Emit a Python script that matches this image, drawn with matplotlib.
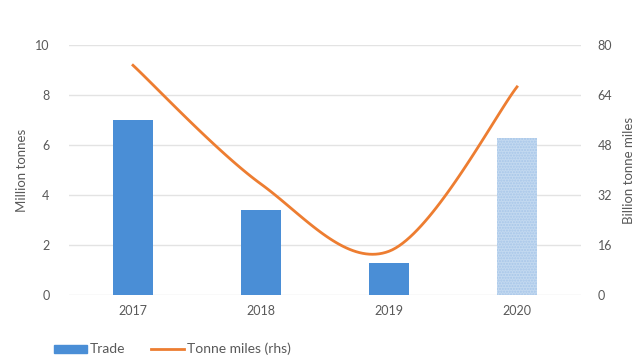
import matplotlib
matplotlib.use("Agg")
import matplotlib.pyplot as plt
import numpy as np
from matplotlib.patches import Patch
from matplotlib.lines import Line2D

years = ["2017", "2018", "2019", "2020"]
trade = [7.0, 3.4, 1.3, 6.3]
tonne_miles = [73.5, 35.5, 14.0, 66.6]
left_ticks = [0, 2, 4, 6, 8, 10]
right_ticks = [0, 16, 32, 48, 64, 80]

plt.rcParams['font.family'] = ['Lato', 'DejaVu Sans']
grey = '#595959'

fig = plt.figure(figsize=(6.4, 3.59), dpi=100)
ax = fig.add_axes([69/640, 1-295/359, (581-69)/640, (295-45)/359])
ax2 = ax.twinx()

x = np.arange(len(years))
colors = ['#4a8ed6', '#4a8ed6', '#4a8ed6', '#c3d9f0']
bars = ax.bar(x, trade, width=0.31, color=colors, zorder=2, linewidth=0)
bars[3].set_hatch('......')
bars[3].set_edgecolor('#a7c6e9')
bars[3].set_linewidth(0)

# Catmull-Rom smoothing with duplicated end points (Excel-like smoothed line)
def catmull(xs, ys, n=40):
    xs = np.asarray(xs, float); ys = np.asarray(ys, float)
    px = np.concatenate([[xs[0]], xs, [xs[-1]]])
    py = np.concatenate([[ys[0]], ys, [ys[-1]]])
    ox, oy = [], []
    for i in range(1, len(px)-2):
        t = np.linspace(0, 1, n)
        for arr, out in ((px, ox), (py, oy)):
            p0, p1, p2, p3 = arr[i-1], arr[i], arr[i+1], arr[i+2]
            b1 = p1 + (p2 - p0) / 6
            b2 = p2 - (p3 - p1) / 6
            out.extend((1-t)**3*p1 + 3*(1-t)**2*t*b1 + 3*(1-t)*t**2*b2 + t**3*p2)
    return np.array(ox), np.array(oy)

sx, sy = catmull(x, tonne_miles)
ax2.plot(sx, sy, color='#ed7d31', linewidth=2, zorder=3)

ax.set_xlim(-0.5, 3.5)
ax.set_ylim(0, 10)
ax2.set_ylim(0, 80)
ax.set_yticks(left_ticks)
ax2.set_yticks(right_ticks)
ax.set_xticks(x)
ax.set_xticklabels(years)
ax.yaxis.grid(True, color='#e3e3e3', linewidth=1)
ax.set_axisbelow(True)
for a in (ax, ax2):
    for s in a.spines.values():
        s.set_visible(False)
    a.tick_params(length=0, colors=grey, labelsize=9)
ax.tick_params(axis='y', pad=14)
ax.tick_params(axis='x', pad=7)
ax2.tick_params(axis='y', pad=12)
ax.set_ylabel("Million tonnes", color=grey, fontsize=9.5, labelpad=5)
ax2.set_ylabel("Billion tonne miles", color=grey, fontsize=9.5, labelpad=8)

handles = [Patch(color='#4a8ed6'), Line2D([0], [0], color='#ed7d31', linewidth=2)]
fig.legend(handles, ["Trade", "Tonne miles (rhs)"], loc='lower left',
           bbox_to_anchor=(0.065, -0.025), ncol=2, frameon=False, fontsize=10,
           labelcolor=grey, handlelength=2.4, handleheight=0.5, handletextpad=0.2,
           columnspacing=1.8)

fig.savefig("out.png", dpi=100, facecolor='white')
